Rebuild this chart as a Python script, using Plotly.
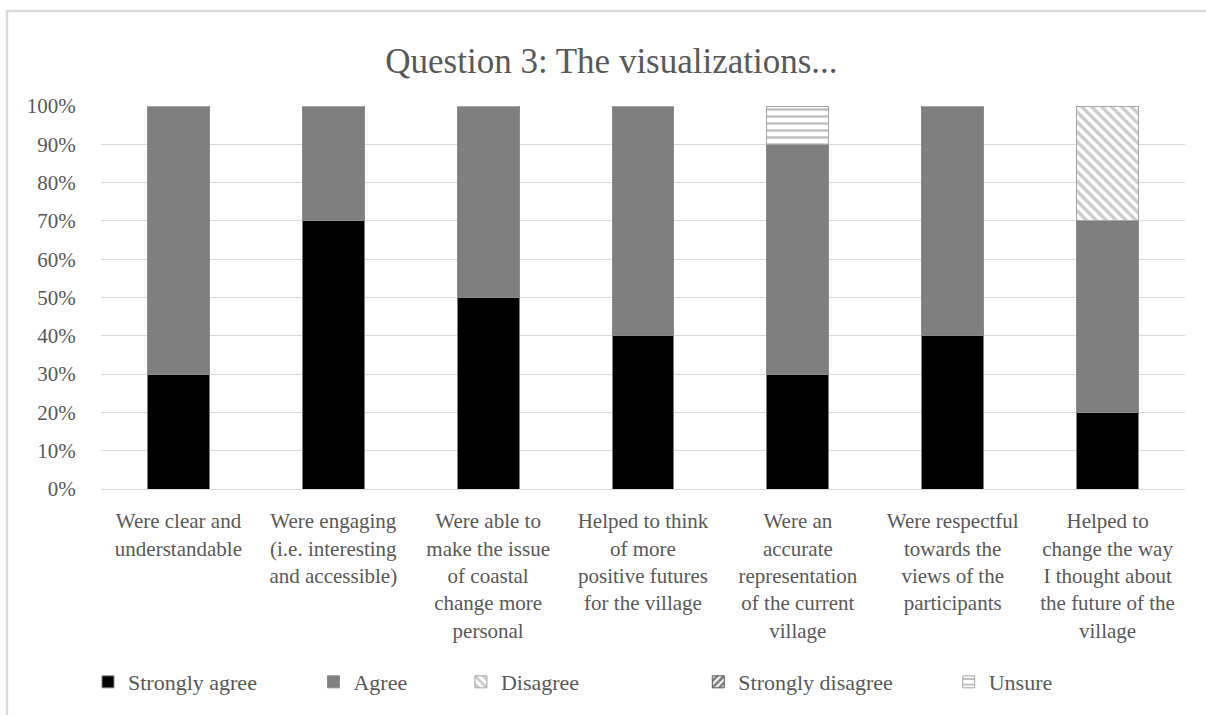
import plotly.graph_objects as go

# Survey question 3 – share of responses per statement
categories = [
    "Were clear and<br>understandable",
    "Were engaging<br>(i.e. interesting<br>and accessible)",
    "Were able to<br>make the issue<br>of coastal<br>change more<br>personal",
    "Helped to think<br>of more<br>positive futures<br>for the village",
    "Were an<br>accurate<br>representation<br>of the current<br>village",
    "Were respectful<br>towards the<br>views of the<br>participants",
    "Helped to<br>change the way<br>I thought about<br>the future of the<br>village",
]
strongly_agree = [0.30, 0.70, 0.50, 0.40, 0.30, 0.40, 0.20]
agree = [0.70, 0.30, 0.50, 0.60, 0.60, 0.60, 0.50]
disagree = [0.0, 0.0, 0.0, 0.0, 0.0, 0.0, 0.30]
strongly_disagree = [0.0, 0.0, 0.0, 0.0, 0.0, 0.0, 0.0]
unsure = [0.0, 0.0, 0.0, 0.0, 0.10, 0.0, 0.0]
y_ticks = [0.0, 0.1, 0.2, 0.3, 0.4, 0.5, 0.6, 0.7, 0.8, 0.9, 1.0]

FONT = "Liberation Serif"
TEXT = "#595959"
GRID = "#d9d9d9"

series = [
    ("Strongly agree", strongly_agree, dict(color="#000000", line=dict(color="#7f7f7f", width=1))),
    ("Agree", agree, dict(color="#7f7f7f", line=dict(color="#8a8a8a", width=1))),
    ("Disagree", disagree, dict(color="#ffffff",
                                pattern=dict(shape="\\", fgcolor="#9a9a9a", bgcolor="#ffffff",
                                             size=7, solidity=0.5, fillmode="overlay"),
                                line=dict(color="#a6a6a6", width=1))),
    ("Strongly disagree", strongly_disagree, dict(color="#ffffff",
                                                  pattern=dict(shape="/", fgcolor="#000000", bgcolor="#ffffff",
                                                               size=6, solidity=0.6, fillmode="overlay"),
                                                  line=dict(color="#595959", width=1))),
    ("Unsure", unsure, dict(color="#ffffff",
                            pattern=dict(shape="-", fgcolor="#808080", bgcolor="#ffffff",
                                         size=7, solidity=0.35, fillmode="overlay"),
                            line=dict(color="#a6a6a6", width=1))),
]

# each legend entry gets its own legend box so the spacing follows the row layout
legend_x = [-0.012, 0.196, 0.332, 0.551, 0.782]

fig = go.Figure()
for i, (name, vals, marker) in enumerate(series):
    fig.add_trace(go.Bar(
        x=categories, y=vals, name=name, marker=marker,
        legend="legend" if i == 0 else f"legend{i + 1}",
    ))

legend_common = dict(
    orientation="h", yanchor="middle", y=-0.504, xanchor="left",
    font=dict(family=FONT, size=22, color=TEXT), bgcolor="rgba(0,0,0,0)",
    itemclick=False, itemdoubleclick=False,
)
layout_legends = {}
for i, lx in enumerate(legend_x):
    key = "legend" if i == 0 else f"legend{i + 1}"
    layout_legends[key] = dict(legend_common, x=lx)

fig.update_layout(
    barmode="stack",
    bargap=0.6,
    width=1206, height=715,
    margin=dict(l=101, r=21, t=106, b=222),
    paper_bgcolor="white", plot_bgcolor="white",
    font=dict(family=FONT, color=TEXT),
    title=dict(text="Question 3: The visualizations...",
               font=dict(family=FONT, size=35, color=TEXT),
               x=0.507, xref="container", xanchor="center",
               y=0.915, yref="container", yanchor="middle"),
    showlegend=True,
    **layout_legends,
)

fig.update_yaxes(
    range=[0, 1], tickvals=y_ticks, tickformat=".0%",
    showgrid=True, gridcolor=GRID, gridwidth=1.3,
    zeroline=False, showline=False,
    ticks="outside", ticklen=20, tickcolor="rgba(0,0,0,0)",
    tickfont=dict(family=FONT, size=21, color=TEXT),
)
fig.update_xaxes(
    showline=True, linecolor=GRID, linewidth=1.3,
    ticks="outside", ticklen=13, tickcolor="rgba(0,0,0,0)",
    tickfont=dict(family=FONT, size=21, color=TEXT),
    tickangle=0,
)

# light chart-area frame
fig.add_shape(type="rect", xref="paper", yref="paper",
              x0=-0.0867, y0=-1.0, x1=1.2, y1=1.248,
              line=dict(color="#d9d9d9", width=2.5), fillcolor="rgba(0,0,0,0)",
              layer="below")

fig.write_html("out.html")
